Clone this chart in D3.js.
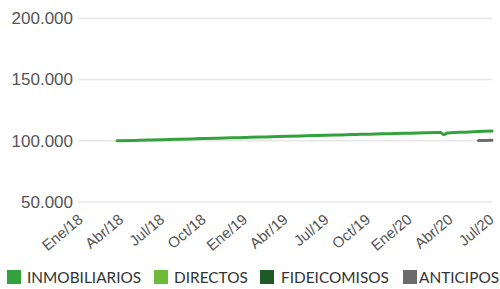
<!DOCTYPE html>
<html>
  <head>
    <meta charset="utf-8" />
    <style>
      body { margin: 0; background: #fff; }
      .grid line { stroke: #e6e6e6; stroke-width: 1.5px; }
      .line { fill: none; stroke-width: 3px; stroke-linejoin: round; stroke-linecap: round; }
      .axis text { fill: #555; font-family: "Liberation Sans", Arial, sans-serif; }
      .legend text { fill: #333; font-family: Lato, sans-serif; font-size: 15.4px; }
    </style>
  </head>
  <body>
    <svg id="chart"></svg>
    <script src="https://d3js.org/d3.v7.min.js"></script>
    <script>
      // series data
      const inmobDates = [
        "2018-03-22", "2018-05-01", "2018-06-01", "2018-07-01", "2018-08-01", "2018-09-01",
        "2018-10-01", "2018-11-01", "2018-12-01", "2019-01-01", "2019-02-01", "2019-03-01",
        "2019-04-01", "2019-05-01", "2019-06-01", "2019-07-01", "2019-08-01", "2019-09-01",
        "2019-10-01", "2019-11-01", "2019-12-01", "2020-01-01", "2020-02-01", "2020-03-01",
        "2020-03-09", "2020-03-16", "2020-03-24", "2020-04-01", "2020-05-01", "2020-06-01",
        "2020-07-01"
      ];
      const inmobValues = [
        100000, 100300, 100600, 100900, 101200, 101500,
        101800, 102100, 102400, 102700, 103000, 103300,
        103600, 103900, 104200, 104500, 104800, 105100,
        105350, 105650, 105900, 106200, 106450, 106700,
        106800, 105000, 106300, 106600, 107000, 107500,
        108000
      ];
      const anticDates = ["2020-06-01", "2020-06-15", "2020-07-01"];
      const anticValues = [100300, 100300, 100400];

      const legendNames = ["INMOBILIARIOS", "DIRECTOS", "FIDEICOMISOS", "ANTICIPOS"];
      const legendColors = ["#34a23c", "#6dbb39", "#1d5a25", "#6b6b6b"];

      const yTicks = [50000, 100000, 150000, 200000];
      const xTickDates = [
        "2018-01-01", "2018-04-01", "2018-07-01", "2018-10-01", "2019-01-01", "2019-04-01",
        "2019-07-01", "2019-10-01", "2020-01-01", "2020-04-01", "2020-07-01"
      ];
      const monthNames = ["Ene", "Feb", "Mar", "Abr", "May", "Jun", "Jul", "Ago", "Sep", "Oct", "Nov", "Dic"];

      const width = 500;
      const height = 289;
      const parse = d3.timeParse("%Y-%m-%d");

      const svg = d3.select("#chart").attr("width", width).attr("height", height);

      const x = d3
        .scaleTime()
        .domain([parse("2018-01-01"), parse("2020-07-01")])
        .range([81, 492]);
      const y = d3.scaleLinear().domain([50000, 200000]).range([202, 18.3]);

      // gridlines
      svg
        .append("g")
        .attr("class", "grid")
        .selectAll("line")
        .data(yTicks)
        .join("line")
        .attr("x1", 78)
        .attr("x2", 492)
        .attr("y1", (d) => y(d))
        .attr("y2", (d) => y(d));

      const fmtNum = (d) => d3.format(",")(d).replace(/,/g, ".");

      const yAxis = svg
        .append("g")
        .attr("class", "axis")
        .attr("transform", "translate(78,0)")
        .call(d3.axisLeft(y).tickValues(yTicks).tickFormat(fmtNum).tickSize(0).tickPadding(5));
      yAxis.select(".domain").remove();
      yAxis.selectAll("text").style("font-size", "17px");

      const xAxis = svg
        .append("g")
        .attr("class", "axis")
        .attr("transform", "translate(0,210)")
        .call(
          d3
            .axisBottom(x)
            .tickValues(xTickDates.map(parse))
            .tickFormat((d) => monthNames[d.getMonth()] + "/" + String(d.getFullYear()).slice(2))
            .tickSize(0)
        );
      xAxis.select(".domain").remove();
      xAxis
        .selectAll("text")
        .style("font-size", "15px")
        .attr("text-anchor", "end")
        .attr("x", 0)
        .attr("y", 0)
        .attr("dy", "0.35em")
        .attr("transform", "translate(-1,7) rotate(-40)");

      const line = d3
        .line()
        .x((d) => x(d[0]))
        .y((d) => y(d[1]))
        .curve(d3.curveMonotoneX);

      svg
        .append("path")
        .datum(anticDates.map((d, i) => [parse(d), anticValues[i]]))
        .attr("class", "line")
        .attr("stroke", legendColors[3])
        .attr("d", line);

      svg
        .append("path")
        .datum(inmobDates.map((d, i) => [parse(d), inmobValues[i]]))
        .attr("class", "line")
        .attr("stroke", legendColors[0])
        .attr("d", line);

      // legend
      const legendX = [7, 154, 260, 403];
      const legendTextX = [20, 20, 21, 16];
      const legend = svg
        .append("g")
        .attr("class", "legend")
        .selectAll("g")
        .data(legendNames)
        .join("g")
        .attr("transform", (d, i) => `translate(${legendX[i]},270)`);
      legend
        .append("rect")
        .attr("width", 14)
        .attr("height", 14)
        .attr("fill", (d, i) => legendColors[i]);
      legend
        .append("text")
        .attr("x", (d, i) => legendTextX[i])
        .attr("y", 13)
        .text((d) => d);
    </script>
  </body>
</html>
